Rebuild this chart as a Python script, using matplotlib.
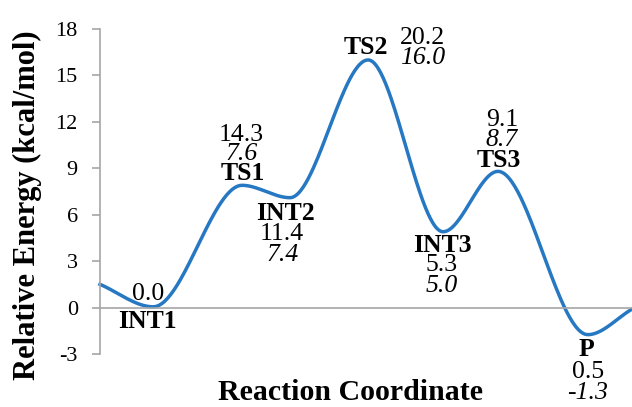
import numpy as np
import matplotlib
matplotlib.use("Agg")
import matplotlib.pyplot as plt

plt.rcParams["font.family"] = ["Liberation Serif", "DejaVu Serif"]
plt.rcParams["axes.unicode_minus"] = False

# Data (curve, labels as printed)
states = ["", "INT1", "TS1", "INT2", "TS2", "INT3", "TS3", "P", ""]
coord = [0.0, 1.0, 2.67, 3.57, 5.04, 6.45, 7.48, 9.17, 10.0]
energy = [1.5, 0.05, 7.9, 7.1, 16.0, 4.9, 8.8, -1.75, -0.1]
level1 = ["", "0.0", "14.3", "11.4", "20.2", "5.3", "9.1", "0.5", ""]
level2 = ["", "", "7.6", "7.4", "16.0", "5.0", "8.7", "-1.3", ""]
yticks = [-3, 0, 3, 6, 9, 12, 15, 18]


def pchip(xs, ys, n=60):
    # monotone cubic Hermite (Fritsch-Carlson)
    x = np.asarray(xs, float)
    y = np.asarray(ys, float)
    h = np.diff(x)
    d = np.diff(y) / h
    m = np.zeros_like(y)
    for k in range(1, len(x) - 1):
        if d[k - 1] * d[k] > 0:
            w1 = 2 * h[k] + h[k - 1]
            w2 = h[k] + 2 * h[k - 1]
            m[k] = (w1 + w2) / (w1 / d[k - 1] + w2 / d[k])
    m[0] = d[0]
    m[-1] = d[-1]
    px, py = [], []
    for k in range(len(x) - 1):
        t = np.linspace(0, 1, n)
        h00 = 2 * t**3 - 3 * t**2 + 1
        h10 = t**3 - 2 * t**2 + t
        h01 = -2 * t**3 + 3 * t**2
        h11 = t**3 - t**2
        px.append(x[k] + t * h[k])
        py.append(h00 * y[k] + h10 * h[k] * m[k] + h01 * y[k + 1] + h11 * h[k] * m[k + 1])
    return np.concatenate(px), np.concatenate(py)


fig = plt.figure(figsize=(6.32, 4.07), dpi=100)
ax = fig.add_axes([100 / 632, 53 / 407, 532 / 632, 325 / 407])

sx, sy = pchip(coord, energy)
ax.plot(sx, sy, color="#2678C3", lw=2.5, clip_on=False)

ax.set_xlim(0, 10)
ax.set_ylim(-3, 18)
ax.set_yticks(yticks)
ax.set_xticks([])
ax.tick_params(axis="y", direction="out", length=6, width=1.2, color="#A6A6A6",
               labelsize=16, pad=10)
for s in ["top", "right"]:
    ax.spines[s].set_visible(False)
ax.spines["bottom"].set_position(("data", 0))
for s in ["bottom", "left"]:
    ax.spines[s].set_color("#A6A6A6")
    ax.spines[s].set_linewidth(1.2)

fig.text(27 / 632, 1 - 205 / 407, "Relative Energy (kcal/mol)", fontsize=22,
         fontweight="bold", rotation=90, ha="center", va="center")
fig.text(351 / 632, 1 - 393 / 407, "Reaction Coordinate", fontsize=21.5,
         fontweight="bold", ha="center", va="center")

# label offsets in pixels from each state point: name, level1, level2
offsets = {
    "INT1": [(-6, -15), (-5, 13), None],
    "TS1": [(1, 12), (-1, 50), (0, 31)],
    "INT2": [(-4, -16), (-8, -36), (-7, -57)],
    "TS2": [(-2, 12), (54, 22), (55, 2)],
    "INT3": [(-1, -14), (-2, -33), (-1, -54)],
    "TS3": [(1, 11), (4, 51), (4, 31)],
    "P": [(-1, -15), (0, -37), (0, -58)],
}
fs = 18.5
for i, name in enumerate(states):
    if not name:
        continue
    o = offsets[name]
    ax.annotate(name, (coord[i], energy[i]), xytext=o[0], textcoords="offset pixels",
                ha="center", va="center", fontsize=fs, fontweight="bold")
    ax.annotate(level1[i], (coord[i], energy[i]), xytext=o[1], textcoords="offset pixels",
                ha="center", va="center", fontsize=fs)
    if level2[i]:
        ax.annotate(level2[i], (coord[i], energy[i]), xytext=o[2], textcoords="offset pixels",
                    ha="center", va="center", fontsize=fs, fontstyle="italic")

fig.savefig("out.png", dpi=100)
